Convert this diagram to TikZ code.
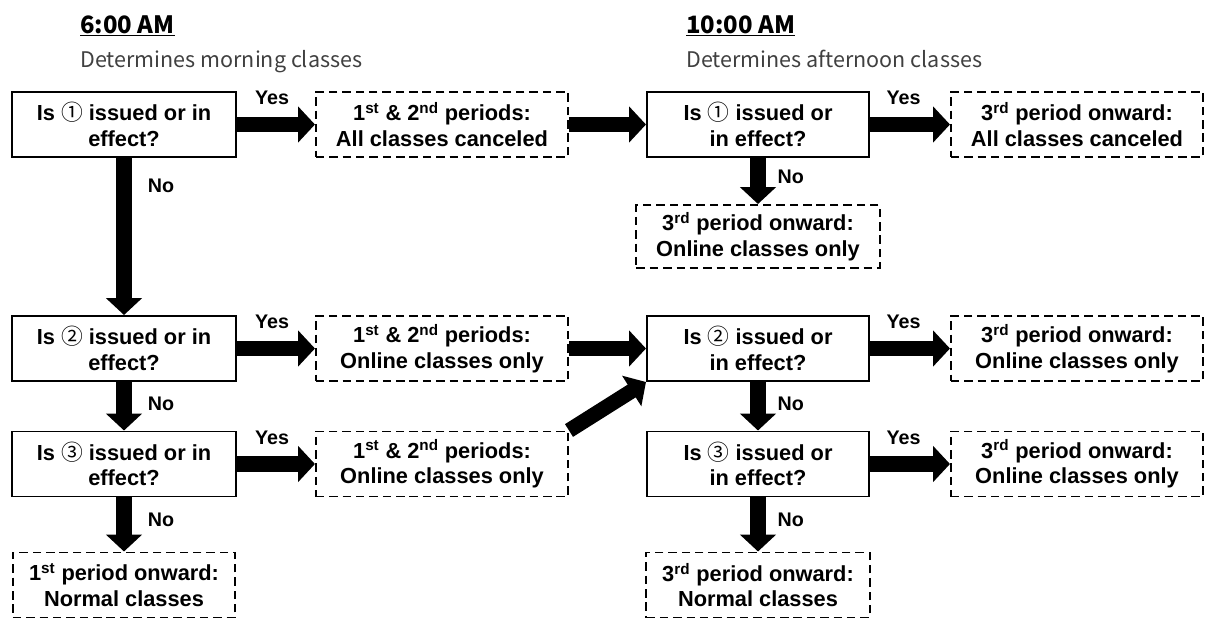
\documentclass[tikz,border=0pt]{standalone}
\usepackage{fontspec}
\setmainfont{Liberation Sans}
\newfontfamily\jpfont{Noto Sans CJK JP}
\usetikzlibrary{arrows.meta}
\definecolor{subgray}{HTML}{404040}
\newcommand{\cnum}[1]{{\jpfont\mdseries #1}}
\tikzset{
  question/.style={draw, line width=1.4pt, minimum width=5.6cm, minimum height=1.625cm,
    align=center, inner sep=2pt, font=\fontsize{15.5}{18}\selectfont\bfseries},
  outcome/.style={question, dash pattern=on 6pt off 3.5pt, minimum width=6.3cm},
  bigarrow/.style={line width=10.7pt, -{Triangle[length=12pt,width=25pt]}},
  answer/.style={inner sep=0pt, outer sep=0pt, font=\fontsize{14}{16}\selectfont\bfseries},
  heading/.style={anchor=base west, inner sep=0pt, font=\jpfont\fontsize{17}{19}\selectfont\bfseries},
  subheading/.style={anchor=base west, inner sep=0pt, text=subgray, font=\jpfont\fontsize{15.3}{17}\selectfont},
}
\begin{document}
\begin{tikzpicture}[x=0.025cm, y=-0.025cm]
\useasboundingbox (0,0) rectangle (1206,618);
% headings
\node[heading] (morning) at (80,33) {\underline{6:00 AM}};
\node[subheading] (morningsub) at (80,67) {Determines morning classes};
\node[heading] (noon) at (686,33) {\underline{10:00 AM}};
\node[subheading] (noonsub) at (686,67) {Determines afternoon classes};
% 6:00 AM checks
\node[question] (q1) at (124,124.5) {Is \cnum{①} issued or in\\effect?};
\node[question] (q2) at (124,348.5) {Is \cnum{②} issued or in\\effect?};
\node[question] (q3) at (124,464) {Is \cnum{③} issued or in\\effect?};
\node[outcome, minimum width=5.55cm] (normal1) at (124,585) {1\textsuperscript{st} period onward:\\Normal classes};
\node[outcome] (cancel12) at (442,124.5) {1\textsuperscript{st} \& 2\textsuperscript{nd} periods:\\All classes canceled};
\node[outcome] (online12a) at (442,348.5) {1\textsuperscript{st} \& 2\textsuperscript{nd} periods:\\Online classes only};
\node[outcome] (online12b) at (442,464) {1\textsuperscript{st} \& 2\textsuperscript{nd} periods:\\Online classes only};
% 10:00 AM checks
\node[question, minimum width=5.55cm] (p1) at (758,124.5) {Is \cnum{①} issued or\\in effect?};
\node[question, minimum width=5.55cm] (p2) at (758,348.5) {Is \cnum{②} issued or\\in effect?};
\node[question, minimum width=5.55cm] (p3) at (758,464) {Is \cnum{③} issued or\\in effect?};
\node[outcome, minimum width=6.075cm, minimum height=1.575cm] (online3a) at (758,236.5) {3\textsuperscript{rd} period onward:\\Online classes only};
\node[outcome, minimum width=5.575cm] (normal3) at (758,585) {3\textsuperscript{rd} period onward:\\Normal classes};
\node[outcome] (cancel3) at (1077,124.5) {3\textsuperscript{rd} period onward:\\All classes canceled};
\node[outcome] (online3b) at (1077,348.5) {3\textsuperscript{rd} period onward:\\Online classes only};
\node[outcome] (online3c) at (1077,464) {3\textsuperscript{rd} period onward:\\Online classes only};
% arrows
\draw[bigarrow] (q1) -- (cancel12) node[answer, pos=.45, above=14pt] (yq1) {Yes};
\draw[bigarrow] (q2) -- (online12a) node[answer, pos=.45, above=14pt] (yq2) {Yes};
\draw[bigarrow] (q3) -- (online12b) node[answer, pos=.45, above=14pt] (yq3) {Yes};
\draw[bigarrow] (q1) -- (q2) node[answer, pos=.18, right=17pt] (nq1) {No};
\draw[bigarrow] (q2) -- (q3) node[answer, pos=.44, right=17pt] (nq2) {No};
\draw[bigarrow] (q3) -- (normal1) node[answer, pos=.41, right=17pt] (nq3) {No};
\draw[bigarrow] (cancel12) -- (p1);
\draw[bigarrow] (online12a) -- (p2);
\draw[bigarrow] (online12b.north east) -- (p2.south west);
\draw[bigarrow] (p1) -- (cancel3) node[answer, pos=.42, above=14pt] (yp1) {Yes};
\draw[bigarrow] (p2) -- (online3b) node[answer, pos=.42, above=14pt] (yp2) {Yes};
\draw[bigarrow] (p3) -- (online3c) node[answer, pos=.42, above=14pt] (yp3) {Yes};
\draw[bigarrow] (p1) -- (online3a) node[answer, pos=.42, right=14pt] (np1) {No};
\draw[bigarrow] (p2) -- (p3) node[answer, pos=.46, right=14pt] (np2) {No};
\draw[bigarrow] (p3) -- (normal3) node[answer, pos=.41, right=14pt] (np3) {No};
\end{tikzpicture}
\end{document}
